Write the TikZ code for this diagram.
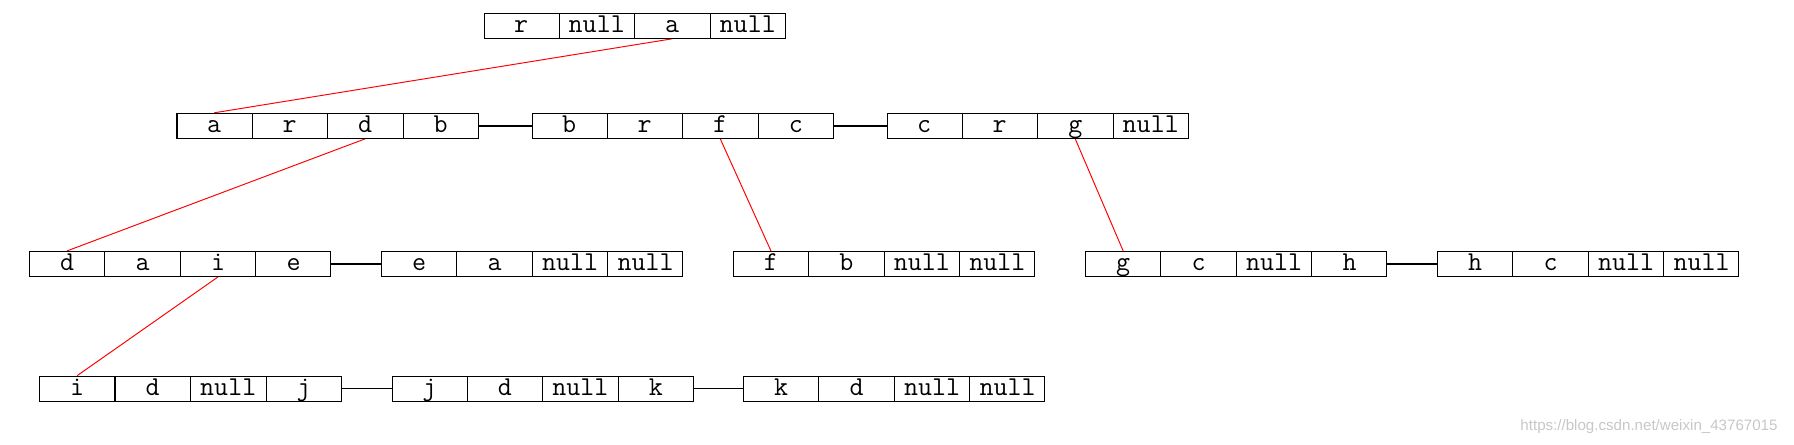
\documentclass[tikz,border=0pt]{standalone}
\usepackage{fontspec}
\newfontfamily\wmfont{Liberation Sans}
\usepackage{tikz}
\usetikzlibrary{shapes.multipart}
\pgfdeclarelayer{bg}
\pgfsetlayers{bg,main}
\tikzset{
    record/.style={rectangle split, rectangle split horizontal, rectangle split parts=4,
        rectangle split part align=base,
        draw, line width=0.57pt, inner xsep=0mm, inner ysep=0mm, text width=1.49cm, align=center,
        text height=0.38cm, text depth=0.12cm, font=\fontsize{15.5}{18}\ttfamily}
}
\tikzset{link/.style={line width=0.9pt}, child/.style={red, line width=0.55pt}}

\begin{document}
\begin{tikzpicture}
        \useasboundingbox (0cm, 0cm) rectangle (35.880000cm, -8.900000cm);
        \node (r) [record] at (12.690000cm, -0.516000cm) {r\nodepart{two}null\nodepart{three}a\nodepart{four}null};
        \node (a) [record] at (6.550000cm, -2.516000cm) {a\nodepart{two}r\nodepart{three}d\nodepart{four}b};
        \node (b) [record] at (13.650000cm, -2.516000cm) {b\nodepart{two}r\nodepart{three}f\nodepart{four}c};
        \node (c) [record] at (20.750000cm, -2.516000cm) {c\nodepart{two}r\nodepart{three}g\nodepart{four}null};
        \node (d) [record] at (3.606000cm, -5.278000cm) {d\nodepart{two}a\nodepart{three}i\nodepart{four}e};
        \node (e) [record] at (10.648000cm, -5.278000cm) {e\nodepart{two}a\nodepart{three}null\nodepart{four}null};
        \node (f) [record] at (17.684000cm, -5.278000cm) {f\nodepart{two}b\nodepart{three}null\nodepart{four}null};
        \node (g) [record] at (24.728000cm, -5.278000cm) {g\nodepart{two}c\nodepart{three}null\nodepart{four}h};
        \node (h) [record] at (31.766000cm, -5.278000cm) {h\nodepart{two}c\nodepart{three}null\nodepart{four}null};
        \node (i) [record] at (3.810000cm, -7.774000cm) {i\nodepart{two}d\nodepart{three}null\nodepart{four}j};
        \node (j) [record] at (10.852000cm, -7.774000cm) {j\nodepart{two}d\nodepart{three}null\nodepart{four}k};
        \node (k) [record] at (17.888000cm, -7.774000cm) {k\nodepart{two}d\nodepart{three}null\nodepart{four}null};
        \node (wm) [text=black!22, font=\wmfont\fontsize{8.6}{10}\selectfont, inner sep=0mm] at (32.980000cm, -8.530000cm) {https://blog.csdn.net/weixin\_43767015};
        \begin{pgfonlayer}{bg}
                \draw (a.east) edge [link] (b.west);
                \draw (b.east) edge [link] (c.west);
                \draw (d.east) edge [link] (e.west);
                \draw (g.east) edge [link] (h.west);
                \draw (i.east) edge [link] (j.west);
                \draw (j.east) edge [link] (k.west);
                \draw (r.three south) edge [child] (a.one north);
                \draw (a.three south) edge [child] (d.one north);
                \draw (b.three south) edge [child] (f.one north);
                \draw (c.three south) edge [child] (g.one north);
                \draw (d.three south) edge [child] (i.one north);
        \end{pgfonlayer}
\end{tikzpicture}
\end{document}
